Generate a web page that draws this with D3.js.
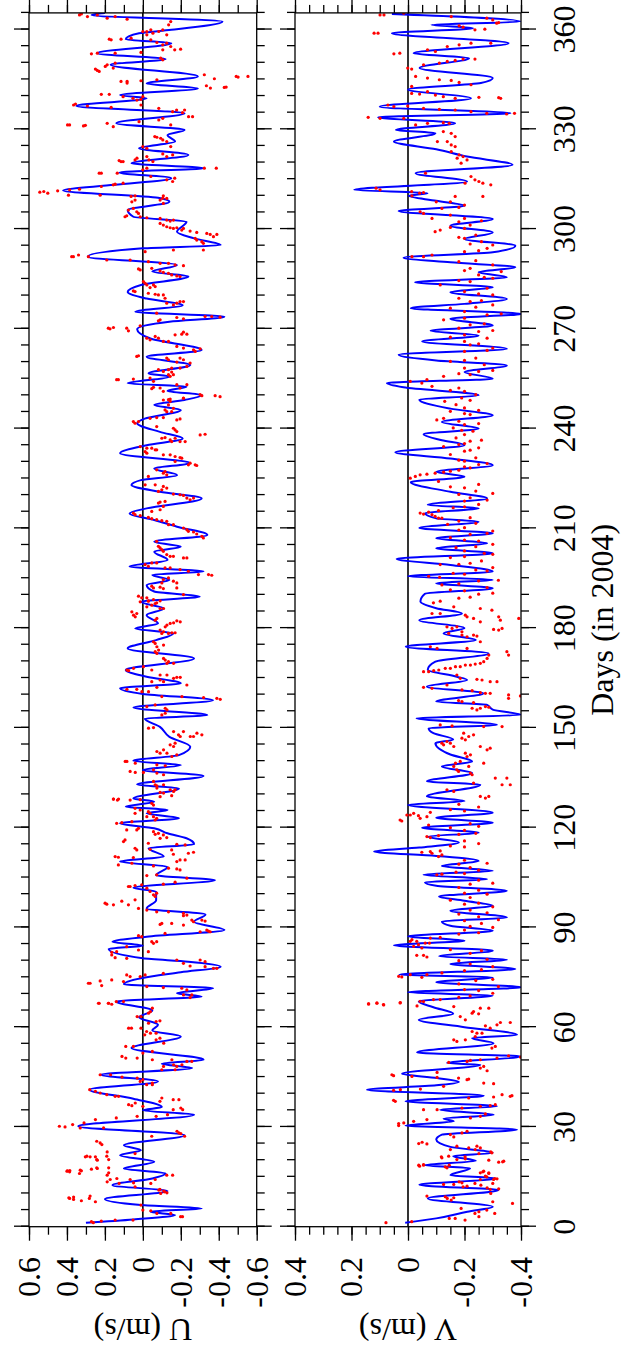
<!DOCTYPE html>
<html>
<head>
<script src="https://d3js.org/d3.v7.min.js"></script>
<style>
  body {margin:0;background:#fff;}
  svg text {font-family:"Liberation Serif","Times New Roman",Times,serif;font-size:32px;fill:#000;}
  .frame {fill:none;stroke:#000;stroke-width:1.3;}
  .zero {stroke:#000;stroke-width:1.6;}
  .tick line {stroke:#000;stroke-width:1.3;}
  .blue {fill:none;stroke:#0000ff;stroke-width:2;}
  .dot {fill:#ff0000;}
</style>
</head>
<body>
<svg id="chart" width="621" height="1359"></svg>
<script>
let dayTicks = [0,30,60,90,120,150,180,210,240,270,300,330,360];
let uTicks = [0.6,0.4,0.2,0,-0.2,-0.4,-0.6];
let vTicks = [0.4,0.2,0,-0.2,-0.4];

// blue curve, [day, U]
let uLine = [[1.2,0.30],[2.2,0.05],[3.5,-0.17],[4.5,-0.04],[5.5,-0.31],[6.5,0.01],[8.3,0.20],[10.7,-0.13],[12.5,0.16],[14.5,-0.05],[16,-0.12],[17.5,0.10],[19.5,-0.06],[21.5,0.12],[23,0.01],[24.5,0.10],[27.5,-0.22],[30.2,0.34],[33.7,-0.27],[35,0.0],[36,-0.10],[38.5,0.05],[41.2,0.28],[43.7,-0.08],[45.7,0.22],[47.7,-0.26],[49,-0.10],[50.2,-0.32],[53.7,0.06],[57.2,-0.20],[59,-0.05],[60.7,-0.08],[63,0.02],[65,-0.05],[67.7,0.14],
[69.2,-0.31],[70.2,-0.18],[71.7,-0.37],[72.9,0.10],[74.7,0.01],[76.5,-0.20],[78.2,-0.41],[79.7,-0.24],[80.7,0.0],[83.5,0.18],[84.5,0.0],[85.7,0.16],[87.2,-0.02],[89.2,-0.43],[91.7,-0.27],[93.9,-0.33],[95.7,-0.02],[98.2,-0.07],[100.7,-0.07],[101.9,0.05],[104.2,-0.38],[105.7,-0.07],[108.2,-0.13],[109.8,0.12],[111.3,-0.11],[113.8,-0.03],[115,-0.27],[116.8,-0.23],[118.3,-0.13],[119.8,-0.06],[121.3,0.12],[122.8,-0.19],[124.3,-0.02],[125.3,-0.13],[126.3,0.09],[127.8,-0.06],
[128.8,0.05],[131.8,-0.19],[133,0.03],[135.5,-0.32],[137.3,0.0],[138.8,-0.20],[140.1,0.05],[141.8,-0.19],[144.3,-0.25],[147.3,-0.14],[150.3,-0.09],[152.8,-0.01],[153.8,-0.34],[156.1,0.05],[158.3,-0.37],[160.2,0.0],[161.9,0.12],[163.4,-0.20],[165.4,-0.02],[167.4,0.09],[170.9,-0.27],[173.9,0.08],[176.4,-0.07],[178.4,-0.16],[179.9,0.04],[181.4,-0.08],[183.9,-0.02],[185.9,-0.11],[187.9,0.01],
[189.5,-0.30],[191,-0.06],[193,-0.02],[194.5,-0.14],[196,-0.05],[197,-0.32],[198.5,0.07],[200.5,-0.13],[203,-0.06],[204.5,-0.20],[206,-0.06],[208,-0.34],[210.5,-0.18],[212.5,-0.06],[214.5,0.07],[216,-0.02],[219,-0.31],[221,-0.09],[223,0.06],[224.5,0.01],[226,-0.18],[228,-0.06],[229.6,-0.25],[232.6,0.12],[235,-0.02],[237,-0.21],[239,-0.09],[241.6,0.03],[243,-0.01],[245.6,-0.20],[247.1,-0.06],[248.6,-0.22],
[250.1,-0.31],[251.3,-0.13],[252.6,-0.23],[253.6,0.08],[255.6,-0.14],[256.6,-0.03],[259.1,-0.25],[261.6,-0.02],[263.6,-0.31],[267.1,-0.04],[269.9,0.03],[272.1,-0.14],[273.6,-0.43],[275.1,0.04],[277.1,-0.21],[279.1,-0.02],[281.1,0.08],[283.2,0.01],[285.7,-0.24],[287.2,-0.05],[289.2,-0.18],[291.7,0.29],[294.2,0.0],[295.2,-0.41],[297.2,-0.27],[299.2,-0.18],[302.2,-0.23],[303.7,0.05],[305.7,0.08],[308.2,-0.14],[309.4,-0.08],
[311.6,0.42],[313.3,0.15],[315.3,-0.15],[317,0.125],[318.3,-0.32],[319.8,0.06],[322.3,-0.24],[324.3,0.02],[326.3,-0.17],[328.3,-0.13],[329.8,-0.22],[331.8,0.14],[334.8,-0.22],[337,0.35],[339.3,-0.02],[340.3,0.12],[342.3,-0.29],[343.8,-0.02],[345.9,-0.29],[349.4,0.17],[351.1,-0.12],[352.9,0.24],[355.9,-0.15],[357.1,0.09],[358.9,0.02],[359.9,-0.15],[362.4,-0.42],[364.4,0.27],[365,0.2]];

// red points, [day, U]
let uDots = [[21,0.303],[21,0.25],[20,0.24],[22.5,0.188],[22,0.041],[16.8,0.397],[16.5,0.386],[16,0.334],[16.8,0.324],[17.3,0.271],[17.5,0.24],[15.5,0.188],[13.5,0.188],[13,0.125],[12,0.041],[13,-0.042],[15.5,-0.126],[15.5,-0.157],[11,-0.084],[10,-0.094],[10.5,-0.115],[8.5,0.386],[8.2,0.365],[7.8,0.324],[8.5,0.282],[7.5,0.25],[6.5,0.01],[5,0],[4.8,-0.042],[4,-0.074],[4,-0.147],[3,-0.199],[3,-0.209],[1.5,0.271],[1.2,0.261],[1.7,0.219],[2,0.146],[2,0.052],
[67.2,0.23],[67.2,0.18],[67.7,0.14],[65.7,-0.05],[64.7,-0.04],[64.2,-0.03],[63.2,0.03],[63.2,0.01],[61.7,-0.07],[61.9,-0.09],[61.2,-0.03],[59.7,0.075],[59.7,0.06],[59.7,0.01],[57.7,-0.01],[58.2,-0.04],[58.2,-0.07],[58.7,-0.02],[54.2,0.09],[54.2,0.05],[52.2,0.0],[52.7,-0.05],[55.2,-0.11],[56.2,-0.07],[56.7,-0.09],[51.2,0.11],[50.7,0.09],[50.7,0.03],[50.2,-0.05],[50.2,-0.153],[49.7,-0.232],[49.7,-0.258],[48.7,-0.162],[48.2,-0.179],[48.7,-0.206],[47.2,-0.17],[47.2,-0.1],[48.2,-0.109],[45.7,0.225],[45.7,0.17],[45,0.11],[44.7,0.03],[43.7,0.014],[43.2,-0.05],[44.2,0.0],[42.7,-0.05],[42.7,-0.02],[41.2,0.28],[40.7,0.25],[40.2,0.225],[39.7,0.19],[39.2,0.146],[39.2,0.128],[38.7,-0.1],[37.7,-0.09],[38.2,-0.16],[38.2,-0.19],[36.7,0.075],[36.4,0.058],[37.2,0.04],[36.2,0.0],[35.2,-0.16],[35.7,-0.2],[35.2,-0.21],[33.7,-0.13],[33.2,-0.07],[33.2,0.03],[32.7,0.14],[30.2,0.44],[30,0.41],[30.7,0.37],[29.7,0.33],[31.2,0.31],[32.2,0.25],[29.7,0.207],[28.2,-0.19],[28,-0.2],[27.2,-0.22],[28.7,-0.18],[25.7,0.243],[25.2,0.225],[24.7,0.216],[27.2,-0.047],[21.2,0.295],[21.0,0.278],[20.2,0.243],[21.2,0.19],[20.2,0.18],[16.7,0.4],[16.9,0.385],[17,0.33],[17.7,0.243],[17.7,0.18],[16.2,0.18],[14.2,0.172],[14.5,0.137],[14.2,0.067],[13.2,0.049],[14.2,-0.065],[11.2,-0.09],[10.7,-0.11],[10.2,-0.127],[8.7,0.39],[8.9,0.365],[9.2,0.278],
[128.6,0.155],[128.3,0.134],[128.3,0.067],[129.3,-0.091],[129.6,-0.152],[127.3,-0.047],[126.8,-0.056],[125.8,0.041],[125.3,0.014],[124.8,-0.029],[124.3,-0.038],[124.3,0.041],[123.3,-0.056],[122.8,-0.073],[122.3,-0.065],[123.3,-0.021],[121.3,0.138],[121.5,0.111],[121.8,0.058],[119.3,0.085],[119.8,0.023],[119.3,0.032],[118.8,-0.056],[118,-0.065],[118.3,-0.082],[116.8,-0.091],[117.8,-0.108],[117,-0.126],[115.8,0.102],[116.3,0.094],[115.3,-0.029],[115,-0.179],[114.8,-0.223],[113.3,-0.152],[112,-0.161],[112.3,-0.24],[112.6,-0.267],[111.3,0.146],[111.1,0.129],[111,0.05],[113.8,0.041],[113.3,0.032],[113.5,-0.038],[108.8,0.129],[109.3,0.058],[108.5,-0.056],[109.8,-0.179],[110.3,-0.196],[110.3,-0.223],[107.8,-0.135],[107.6,-0.179],[107.3,-0.196],[105.8,-0.073],[105.6,-0.021],[104.8,-0.232],[103,-0.108],[103.6,-0.17],[102.3,0.076],[102.3,0.067],[102.6,0.041],[102.8,0.006],[101.8,-0.021],[100.8,-0.038],[99.8,-0.056],[99.3,-0.065],[100.3,-0.073],[97.3,0.199],[97,0.19],[96.8,0.155],[97.9,0.111],[96.8,0.076],[98.3,0.041],[95.7,0.023],[95.2,-0.021],[94.7,-0.073],[94.7,-0.135],[94.2,-0.214],[93.5,-0.214],[93.7,-0.232],[91.7,-0.267],[92.2,-0.258],[92.2,-0.311],[91.9,-0.328],[90.9,-0.091],[91.2,-0.1],[91.2,-0.152],[88.2,-0.117],[90.7,-0.214],[88.7,-0.302],[89.2,-0.337],[88.9,-0.346],[88.7,-0.355],[87.5,0.023],[87.2,0.006],[85.7,-0.047],[85.2,-0.056],[85.7,-0.073],[82.5,0.164],[81.7,0.164],[80.9,0.146],[82.7,0.138],[84.2,0.085],[80.7,0.085],[83.2,0.023],[82.7,-0.029],[80.2,-0.179],[79.2,-0.214],[80.2,-0.302],[79.7,-0.328],[78.4,-0.249],[78.2,-0.328],[77.7,-0.372],[77.7,-0.39],[75.7,0.085],[75.2,0.067],[75.2,0.014],[75.7,-0.012],[76.2,-0.108],[73.2,0.287],[73.2,0.278],[73.9,0.225],[72.5,0.217],[74.2,0.164],[73.7,0.102],[72.2,-0.021],[71.9,-0.108],[71.7,-0.205],[71.2,-0.232],[69.7,-0.258],[68.9,-0.249],[69.7,-0.214],[67.2,0.234],[67.2,0.182],[66.9,0.164],[67.7,0.102],
[187.9,0.014],[188.2,-0.03],[188.2,-0.091],[186.9,-0.047],[186.4,-0.021],[187.4,-0.065],[185.9,-0.091],[185.9,-0.109],[184.9,0.058],[183.9,0.049],[184.4,0.032],[183.4,0.04],[182.9,-0.074],[182.4,-0.065],[180.9,-0.127],[181.4,-0.144],[181.6,-0.162],[181.9,-0.197],[182.2,-0.179],[180.4,-0.118],[179.4,-0.091],[178.4,-0.1],[178.9,-0.109],[178.4,-0.135],[178.6,-0.153],[178.6,-0.17],[175.9,-0.056],[175.4,-0.065],[174.4,-0.074],[174.9,-0.109],[172.9,-0.065],[172.4,-0.074],[173.4,-0.083],[170.9,-0.109],[170.4,-0.118],[169.9,-0.135],[169.4,-0.127],[169.4,-0.162],[167.4,0.084],[167.2,0.075],[167.9,0.049],[168.4,-0.003],[167.4,-0.047],[165.9,-0.091],[165.9,-0.127],[164.9,-0.162],[165.2,-0.179],[165.2,-0.197],[163.9,-0.047],[164.4,-0.091],[163.9,-0.109],[162.9,-0.232],[161.6,0.084],[161.6,0.032],[160.9,0.005],[160.9,-0.03],[162.2,-0.074],[159.4,-0.1],[159.4,-0.206],[159.1,-0.32],[158.9,-0.39],[158.6,-0.408],[156.4,-0.021],[156.9,-0.065],[155.9,-0.118],[155.4,-0.127],[153.9,-0.1],[154.4,-0.118],[149.9,-0.03],[150.1,-0.056],[148.9,-0.162],[147.9,-0.188],[147.4,-0.197],[148.9,-0.214],[147.4,-0.25],[148.4,-0.285],[147.9,-0.311],[147.4,-0.267],[144.9,-0.144],[144.4,-0.162],[145.4,-0.17],[143.4,-0.109],[142.4,-0.127],[141.9,-0.179],[141.4,-0.153],[142.9,-0.074],[142.4,-0.091],[139.9,0.093],[139.9,0.084],[139.4,0.04],[138.9,-0.074],[138.6,-0.118],[136.9,0.067],[136.6,0.04],[136.6,-0.003],[137.4,-0.056],[136.4,-0.074],[135.9,-0.109],[132.9,-0.065],[132.6,-0.074],[132.9,-0.109],[133.9,-0.056],[131.9,-0.074],[130.6,-0.091],[130.4,-0.109],[131.4,-0.144],[130.9,-0.162],[131.4,-0.17],[128.6,0.155],[128.6,0.128],[128.4,0.014],
[249.9,-0.311],[249.9,-0.381],[249.6,-0.407],[248.6,-0.108],[248.9,-0.144],[249.1,-0.214],[247.1,-0.135],[245.6,-0.117],[246.1,-0.161],[245.1,-0.152],[245.1,-0.126],[241.6,0.041],[242.1,0.05],[242.1,0.023],[243.1,-0.038],[243.3,-0.073],[243.3,-0.108],[242.6,-0.179],[242.9,-0.196],[240.6,-0.073],[240.1,-0.161],[239.6,-0.17],[239.1,-0.179],[237.1,-0.1],[237.3,-0.117],[236.6,-0.144],[236.1,-0.152],[237.1,-0.17],[236.1,-0.196],[236.1,-0.223],[238.1,-0.302],[238.3,-0.328],[234.6,0.014],[234.1,-0.021],[234.1,-0.047],[233.6,-0.065],[233.6,-0.073],[233.1,-0.012],[232.6,-0.021],[232.1,-0.108],[232.1,-0.144],[231.6,-0.17],[231.3,-0.196],[231.1,-0.205],[230.1,-0.17],[229.1,-0.24],[229.6,-0.249],[229.1,-0.276],[228.9,-0.284],[227.6,-0.073],[227.1,-0.117],[226.1,-0.126],[226.6,-0.108],[225.6,-0.029],[223.1,-0.012],[223.1,-0.065],[222.6,-0.108],[222.1,-0.126],[221.6,-0.1],[221.1,-0.082],[220.3,-0.161],[220.1,-0.196],[219.9,-0.214],[219.1,-0.232],[218.6,-0.249],[219.1,-0.267],[217.6,-0.082],[217.9,-0.091],[218.1,-0.117],[216.6,-0.108],[215.6,-0.091],[215.1,-0.047],[214.6,0.05],[214.1,0.041],[213.8,0.014],[213.3,-0.029],[212.9,-0.047],[212.6,-0.073],[212.3,-0.1],[212.1,-0.126],[211.1,-0.135],[211.1,-0.161],[210.1,-0.214],[209.6,-0.232],[209.1,-0.24],[208.9,-0.267],[208.3,-0.284],[207.6,-0.311],[207.1,-0.319],[206.1,-0.073],[204.6,-0.082],[204.1,-0.091],[203.6,-0.1],[203.1,-0.108],[202.1,-0.126],[201.6,-0.144],[201.6,-0.161],[201.1,-0.214],[201.1,-0.232],[199.1,-0.012],[198.6,-0.029],[199.6,-0.047],[199.6,-0.073],[198.1,-0.117],[198.1,-0.144],[197.6,-0.196],[197.1,-0.24],[196.1,-0.293],[196.1,-0.346],[195.9,-0.363],[194.6,-0.108],[195.1,-0.135],[194.1,-0.161],[193.6,-0.179],[193.6,-0.1],[192.6,-0.047],[192.1,-0.056],[192.3,-0.091],[191.9,-0.108],[192.1,-0.179],[190.1,-0.214],[189.6,0.023],[189.1,0.006],[189.1,-0.021],[188.1,-0.029],[188.6,-0.056],[187.6,-0.073],
[310.2,0.392],[310.2,0.225],[310,0.041],[310,-0.108],[308.7,0.041],[308.2,0.058],[308.7,-0.091],[309.2,-0.126],[307.7,-0.108],[305.7,0.076],[306.2,0.05],[305.2,0.032],[304.7,0.023],[304,0.085],[303.7,0.094],[303.7,0.014],[303.4,-0.021],[303.2,-0.091],[302.7,-0.126],[302.4,-0.144],[302.7,-0.161],[301.7,-0.091],[301.2,-0.108],[300.7,-0.126],[300.4,-0.144],[300.2,-0.161],[300.4,-0.179],[299.7,-0.205],[300.2,-0.214],[299.4,-0.249],[299,-0.284],[298.7,-0.337],[298.4,-0.355],[298.4,-0.39],[297.7,-0.372],[297.2,-0.276],[296.7,-0.284],[296.2,-0.311],[295.7,-0.319],[293.7,-0.161],[293.7,-0.319],[291.7,0.375],[291.7,0.366],[292.2,0.339],[291.7,0.287],[290.7,0.19],[290.7,0.067],[293.2,-0.012],[290.2,-0.029],[289.7,-0.091],[289.7,-0.135],[289.2,-0.17],[289,-0.214],[288,0.023],[287.7,0.014],[288.2,-0.047],[287.4,-0.091],[287,-0.108],[286.7,-0.135],[286.2,-0.152],[285.9,-0.179],[285.7,-0.196],[284.2,-0.003],[283.7,-0.012],[283.2,-0.021],[283.2,-0.056],[282.7,-0.065],[282.4,-0.038],[281.4,0.05],[281.2,0.041],[280.7,-0.029],[280.4,-0.065],[280.2,-0.082],[280.2,-0.108],[279.2,-0.117],[277.7,-0.126],[277.7,-0.179],[278.2,-0.196],[278.2,-0.214],[277.2,-0.161],[274.7,-0.073],[272.7,-0.091],[272.4,-0.082],[273.4,-0.179],[273,-0.214],[273.7,-0.328],[273.7,-0.363],[273.5,-0.407],[270.2,0.182],[270,0.173],[270.4,0.155],[270.2,0.085],[269.4,0.076],[270.9,0.014],[267.2,-0.021],[266.7,-0.038],[267.7,-0.065],[267.2,-0.082],[266.2,-0.108],[266.2,-0.135],[268.2,-0.17],[268.4,-0.205],[269,-0.214],[268.4,-0.232],[264.7,-0.179],[264.2,-0.214],[263.7,-0.267],[263.2,-0.276],[264,-0.302],[261.7,0.032],[261.9,0.023],[261.2,-0.126],[260.7,-0.135],[261.2,-0.196],[260.7,-0.214],[258.7,-0.232],[259.7,-0.249],[260,-0.179],[257.7,-0.082],[257.2,-0.108],[257.7,-0.135],[258.2,-0.152],[258.2,-0.196],[256.2,-0.135],[255.7,-0.144],[256.2,-0.161],[257,-0.152],[254.7,0.138],[254.7,0.129],[254.9,0.05],[255.2,-0.038],[254.2,-0.056],[253.2,-0.179],[253.2,-0.232],[252.2,-0.196],[252.2,-0.091],[252.4,-0.056],[252,-0.047],[251.2,-0.108],[250.2,-0.302],[248.7,-0.135],[248.2,-0.144],[249.2,-0.214],
[364.4,0.334],[364.7,0.324],[363.9,0.292],[364.4,0.24],[363.4,0.188],[363.9,0.146],[363.1,0.083],[359.4,0],[359.4,-0.021],[359.9,-0.042],[358.9,-0.053],[359.4,-0.084],[359.9,-0.105],[358.4,-0.126],[361.4,-0.136],[362.4,-0.147],[358.4,-0.021],[357.1,0.177],[356.9,0.167],[357.1,0.115],[357.4,0.062],[356.9,-0.042],[356.1,-0.074],[355.4,-0.105],[355.9,-0.126],[354.9,-0.147],[353.9,-0.168],[354.1,-0.199],[353.9,-0.105],[352.7,0.271],[352.9,0.24],[352.9,0.146],[353.1,0.01],[351.4,-0.094],[350.9,-0.105],[348.1,0.25],[347.7,0.24],[348.9,0.198],[349.4,0.188],[348.4,0.156],[349.9,0.146],[347.4,0.23],[344.4,0.083],[344.4,0.115],[343.9,0.083],[344.6,0.01],[344.9,-0.074],[346.4,-0.324],[345.2,-0.377],[345.9,-0.492],[345.7,-0.502],[345.9,-0.554],[340.5,0.219],[340.5,0.177],[339.8,0.104],[339.3,0.052],[338.8,0.031],[339,0.01],[339.8,0],[342.4,-0.356],[342.6,-0.429],[342.7,-0.439],[343.1,-0.335],[337.3,0.365],[337.6,0.355],[337,0.292],[336.6,0.167],[337.3,0.01],[336.3,-0.084],[335.3,-0.157],[335.8,-0.178],[335,-0.209],[335.8,-0.22],[333.8,-0.241],[333.8,-0.262],[333.3,-0.105],[331.3,0.397],[331.3,0.386],[331,0.313],[331.2,0.303],[331.8,0.188],[330.8,0.156],[332.3,0.02],[332.8,-0.084],[331.3,-0.147],[327.8,-0.063],[327.6,-0.074],[327.3,-0.094],[326.8,-0.105],[326.3,-0.126],[324.8,-0.147],[324.8,0],[324.3,-0.021],[320.6,0.125],[320.3,0.115],[320.3,0.104],[320.8,0.041],[321.3,0.031],[321.8,-0.021],[320.8,-0.032],[320.3,-0.053],[322.6,-0.105],[321.8,-0.126],[322.3,-0.157],[316.8,0.23],[316.8,0.219],[316.8,0.135],[317.8,0],[318.3,-0.021],[315.3,-0.168],[318.3,-0.324],[318.3,-0.387],[315.8,-0.042],[313.3,0.156],[313.5,0.146],[313.8,0.104],[314.8,-0.126],[314.3,-0.157],[311.1,0.543],[311.3,0.522],[310.8,0.501],[311.5,0.449],[311.8,0.386],[312,0.334],[312.8,0.219],[309.8,0.062],[309.3,-0.105]];

// blue curve, [day, V]
let vLine = [[1.2,0.01],[2.5,-0.10],[4.5,-0.21],[6,-0.30],[8.5,-0.07],[11,-0.32],[12.6,-0.04],[14.5,-0.31],[15.5,-0.15],[17.6,-0.22],[18.5,-0.06],[19.8,-0.24],[21.2,-0.16],[22.2,-0.30],[24,-0.15],[26.2,-0.10],[27.7,-0.12],[29.2,-0.386],[30.4,0.009],[31.7,-0.162],[32.5,-0.126],[33.7,-0.303],[35.2,-0.114],[36.2,-0.315],[37.7,0.009],[39.4,-0.268],[41.2,0.145],[42.5,-0.1],[43.5,-0.18],[44.7,-0.103],[46,0.021],[48.7,-0.256],[49.2,-0.138],[51.2,-0.398],[52.4,-0.032],[55.2,-0.303],[56.7,-0.227],[57.7,-0.386],[60,-0.2],[62.2,-0.038],[64,-0.16],[66,-0.09],[67.7,-0.038],
[69.5,-0.30],[70.5,0.0],[72,-0.40],[73.5,-0.10],[75,-0.30],[75.8,0.03],[77.5,-0.38],[79,-0.15],[80.3,-0.35],[81.3,-0.11],[83,-0.30],[84.6,0.05],[86,-0.20],[87.3,0.0],[89,-0.30],[90.5,-0.15],[91.8,-0.12],[93,-0.35],[95,-0.15],[96.5,-0.30],[98,-0.2],[99.3,-0.11],[101,-0.35],[102.5,-0.10],[103.6,-0.06],[104.5,-0.28],[105.8,-0.055],[107,-0.30],[108.5,-0.12],[110,-0.25],[111.5,-0.10],[112.8,0.12],[114,-0.04],[115.5,-0.18],[117.3,-0.07],[118.5,-0.25],[120,-0.05],[121.5,-0.3],[123,-0.1],[124.5,-0.3],[126.8,0.0],[128,-0.2],
[129.4,-0.067],[132.9,-0.256],[133.9,-0.067],[136.4,-0.227],[138.4,-0.12],[139.9,-0.227],[142,-0.15],[145.4,-0.097],[146.5,-0.16],[148.4,-0.09],[149.9,-0.073],[150.9,-0.315],[152.9,-0.03],[153.9,-0.40],[155.5,-0.3],[156.9,-0.28],[157.9,-0.10],[160.4,-0.268],[162.4,-0.067],[164.4,-0.209],[165.4,-0.173],[167.5,-0.07],[169.9,-0.097],[172.4,-0.285],[174.4,0.008],[176.4,-0.24],[178.4,-0.126],[180,-0.2],[182.4,-0.04],[184.4,-0.191],[186,-0.1],[188,-0.044],
[190.3,-0.06],[192,-0.3],[193.5,-0.1],[194.5,-0.3],[195.6,0.0],[197,-0.3],[199,-0.15],[200.8,0.04],[202.5,-0.3],[204,-0.1],[205.5,-0.28],[207,-0.1],[208.5,-0.3],[210.1,-0.04],[212,-0.25],[213,-0.1],[214.6,-0.06],[216,-0.25],[217.1,-0.07],[219,-0.28],[221,-0.15],[223.9,-0.01],[225.5,-0.2],[227,-0.1],[229,-0.3],[231,-0.15],[232.9,0.045],[235,-0.2],[236.5,-0.12],[238.3,-0.055],[240,-0.25],[242,-0.12],[244,-0.3],[246,-0.15],[248.7,-0.04],[250,-0.25],[252.4,0.016],[253.7,0.075],[255,-0.3],[257,-0.2],[259,-0.35],[260.5,-0.1],[262.2,0.033],[264,-0.35],[266.2,-0.05],[268,-0.25],[269.4,-0.08],[271,-0.3],[273,-0.15],[274.5,-0.4],[276.2,-0.01],[277.5,-0.2],[279,-0.35],[281,-0.15],[282.5,-0.3],[284,-0.025],[285.5,-0.35],[287,-0.25],[288.5,-0.38],[290,-0.15],[291.4,0.016],[293,-0.3],[295,-0.38],[297,-0.2],[299,-0.3],[301,-0.15],[303,-0.3],[305.4,0.033],[307,-0.2],[308.5,-0.1],[310,-0.002],
[310.8,-0.069],[311.8,0.19],[314.3,-0.209],[316.8,-0.027],[319.3,-0.37],[321.8,-0.209],[324,-0.1],[326.3,0.05],[328.8,-0.097],[329.8,0.043],[331.8,-0.167],[333.6,0.106],[334.8,-0.363],[336.8,0.1],[339.3,-0.223],[342,0.0],[343.9,-0.258],[345.4,-0.3],[348.4,-0.041],[351.4,-0.216],[352.9,-0.02],[355.9,-0.356],[358.9,0.057],[360.4,-0.23],[361.4,-0.083],[362.4,-0.398],[364.7,0.057]];

// red points, [day, V]
let vDots = [[1.2,0.078],[1.5,-0.013],[2.5,-0.146],[2.5,-0.167],[2,-0.202],[3,-0.251],[4,-0.237],[4.5,-0.251],[5,-0.279],[4,-0.307],[5.5,-0.188],[7,-0.37],[7.5,-0.3],[8.5,-0.139],[8,-0.153],[10,-0.293],[15,-0.279],[16,-0.286],[16.5,-0.265],[14.5,-0.307],[13,-0.3],[13,-0.237],[12.5,-0.258],[12,-0.195],[13.5,-0.181],[18,-0.132],[18.5,-0.146],[18.2,-0.041],[18.5,-0.055],[19.5,-0.335],[20,-0.286],[21,-0.202],[21,-0.118],[22,-0.251],[22.5,-0.293],
[67,0.139],[67.2,0.11],[66.7,0.086],[67.4,0.027],[66.4,-0.032],[67.7,-0.055],[66.2,-0.162],[63.2,-0.185],[62.2,-0.203],[64.2,-0.227],[64.7,-0.232],[64,-0.25],[65.7,-0.256],[65.7,-0.286],[60.7,-0.315],[61.4,-0.327],[61.4,-0.362],[60.4,-0.274],[59.7,-0.291],[58.2,-0.262],[57.2,-0.238],[58.7,-0.227],[58.2,-0.244],[56.2,-0.162],[55.7,-0.173],[56.2,-0.203],[53.7,-0.297],[54.2,-0.309],[50.2,-0.256],[50.7,-0.315],[51.4,-0.356],[51,-0.398],[49.4,-0.144],[49.7,-0.209],[50,-0.221],[48.2,-0.268],[46.9,-0.28],[47.7,-0.256],[45.7,0.057],[45.4,0.051],[45.2,-0.014],[46.4,-0.103],[44.9,-0.103],[44.7,-0.179],[44.2,-0.209],[44.4,-0.215],[43.2,-0.268],[43,-0.303],[41,0.051],[41.2,0.027],[41.4,-0.044],[42.2,-0.126],[38.7,-0.215],[39,-0.303],[39.7,-0.333],[39.2,-0.362],[39.4,-0.368],[38,0.051],[37.7,0.045],[35.2,-0.055],[35.2,-0.103],[35.7,-0.191],[36.2,-0.256],[36.4,-0.291],[36.7,-0.309],[32.7,-0.221],[33.2,-0.256],[33.9,-0.274],[31,0.033],[31.2,0.015],[30.4,0.033],[31.7,-0.02],[32.2,-0.067],[27,-0.162],[27.7,-0.15],[28.2,-0.191],[28.7,-0.209],[23.7,-0.256],[24.2,-0.244],[22.2,-0.297],[25,-0.038],[25.4,-0.05],[24.9,-0.067],[23.2,-0.15],[24.2,-0.173],[23.7,-0.215],[23.2,-0.238],[20.7,-0.12],[21.2,-0.144],[20.2,-0.173],[20.4,-0.203],[19.4,-0.321],[19.7,-0.339],[18.5,-0.038],[18.7,-0.055],[17.7,-0.138],[16.2,-0.256],[16.7,-0.268],[16.2,-0.286],[15.2,-0.274],[12.7,-0.126],[12.7,-0.162],[13.2,-0.191],[12.2,-0.209],[14.2,-0.256],[14.2,-0.303],[14.4,-0.315],[11.7,-0.28],[11.2,-0.291],[11.4,-0.321],[9.2,-0.067],[9,-0.132],[8.7,-0.162],
[122.3,0.028],[122,0.022],[123.8,0.004],[123.8,-0.008],[124.3,-0.02],[123.6,-0.037],[122.8,-0.043],[123.3,-0.067],[124.6,-0.079],[120.8,-0.073],[117.3,-0.067],[117,-0.079],[117.6,-0.108],[112.6,-0.049],[112.8,-0.079],[112.3,-0.085],[111.3,-0.108],[111.8,-0.12],[113,-0.114],[105.8,-0.102],[106,-0.12],[85.8,-0.008],[86.3,-0.014],[85.8,-0.031],[84.8,-0.037],[85.3,-0.061],[85.3,-0.076],[84.3,-0.02],[83.8,-0.049],[86.8,-0.079],[87,-0.114],[81.6,-0.031],[81.6,-0.055],[81.1,-0.067],[75.3,0.033],[75.1,0.022],[75.8,-0.008],[75,-0.049],[75.8,-0.067],[76.3,-0.12],[67,0.14],[67.3,0.11],[66.8,0.087],[67.3,0.028],[67.8,-0.043],[68.3,-0.09],[68.3,-0.114],
[69,-0.18],[69.4,-0.22],[70.2,-0.3],[71,-0.25],[71.3,-0.2],[72.2,-0.32],[73,-0.18],[74,-0.24],[74.4,-0.3],[77,-0.2],[77.3,-0.26],[78.2,-0.3],[79,-0.22],[80,-0.18],[80.4,-0.28],[82.2,-0.22],[83,-0.26],[83.3,-0.15],[88,-0.18],[88.4,-0.25],[89.2,-0.2],[90,-0.3],[90.3,-0.22],[91.2,-0.26],[92,-0.2],[92.3,-0.32],[93.2,-0.25],[94,-0.18],[94.4,-0.28],[95.2,-0.22],[96.2,-0.3],[97,-0.2],[97.3,-0.25],[98.2,-0.15],[99,-0.22],[100,-0.28],[100.3,-0.2],[101.2,-0.25],[102,-0.18],[103,-0.22],[103.3,-0.3],[104.2,-0.25],[106.2,-0.2],[106.6,-0.17],[107.2,-0.25],[108,-0.22],[109,-0.18],[109.3,-0.28],[110.2,-0.2],[114.2,-0.2],[114.5,-0.15],[115.2,-0.25],[116,-0.2],[118,-0.18],[118.3,-0.24],[119.2,-0.2],[120,-0.15],[120.4,-0.25],[121.2,-0.22],[125,-0.2],[125.4,-0.15],[126.2,-0.25],[127,-0.18],
[184.4,-0.085],[184.4,-0.114],[186.4,-0.162],[185.9,-0.256],[185.4,-0.297],[183.4,-0.321],[182.4,-0.327],[182.9,-0.392],[183.9,-0.203],[183.4,-0.209],[182.9,-0.232],[181.9,-0.256],[179.6,-0.303],[179.4,-0.321],[179.9,-0.333],[180.4,-0.138],[179.9,-0.156],[180.4,-0.173],[178.9,-0.191],[177.9,-0.191],[177.4,-0.209],[177.9,-0.232],[177.6,-0.244],[175.9,-0.256],[178.4,-0.144],[174.4,-0.079],[173.9,-0.103],[173.9,-0.209],[172.9,-0.35],[171.9,-0.356],[171.9,-0.286],[170.9,-0.28],[169.9,-0.268],[169.4,-0.256],[169.2,-0.238],[168.9,-0.221],[168.9,-0.203],[168.4,-0.185],[168.4,-0.168],[167.9,-0.15],[167.9,-0.132],[167.4,-0.109],[167.2,-0.091],[166.9,-0.073],[166.9,-0.055],[165.9,-0.173],[164.9,-0.185],[164.6,-0.244],[164.4,-0.262],[163.9,-0.291],[163.9,-0.315],[162.2,-0.055],[161.9,-0.085],[162.9,-0.138],[161.4,-0.191],[161.2,-0.227],[160.6,-0.256],[160.4,-0.274],[160.4,-0.291],[159.9,-0.356],[158.9,-0.356],[159.6,-0.398],[158.2,-0.179],[157.9,-0.191],[157.6,-0.232],[155.9,-0.227],[155.4,-0.244],[155.9,-0.256],[156.4,-0.274],[156.2,-0.286],[150.4,-0.333],[150.9,-0.114],[150.6,-0.156],[150.4,-0.268],[145.4,-0.12],[144.9,-0.126],[145.9,-0.138],[145.4,-0.15],[144.4,-0.162],[148.4,-0.197],[147.4,-0.215],[147.9,-0.232],[146.4,-0.203],[146.9,-0.191],[142.4,-0.203],[141.4,-0.209],[141.9,-0.221],[144.4,-0.256],[143.4,-0.28],[143.9,-0.291],[139.4,-0.268],[139.4,-0.168],[139.9,-0.185],[138.4,-0.162],[137.4,-0.173],[136.9,-0.179],[138.4,-0.215],[136.4,-0.221],[135.9,-0.227],[134.9,-0.309],[132.9,-0.333],[132.9,-0.362],[134.9,-0.35],[133.4,-0.232],[129.4,-0.256],[128.9,-0.274],[129.4,-0.286],[130.9,-0.162],[131.4,-0.138],
[225.1,-0.008],[225.6,-0.026],[226.1,-0.043],[226.3,-0.067],[226.6,-0.096],[226.9,-0.126],[214.6,-0.043],[214.3,-0.055],[214.9,-0.073],[214.1,-0.085],[213.6,-0.096],[213.1,-0.108],[213.1,-0.12],[215.3,-0.108],[242.6,-0.102],[243.1,-0.126],[234.6,-0.126],[224.1,-0.108],[195.6,-0.073],[195.3,-0.112],[199.1,-0.114],[187.6,-0.09],[188.1,-0.114],
[189,-0.18],[189.3,-0.22],[190.2,-0.25],[190.5,-0.3],[191.2,-0.2],[191.5,-0.15],[192.2,-0.28],[193,-0.12],[193.3,-0.18],[194.2,-0.25],[194.4,-0.32],[196.2,-0.2],[196.5,-0.16],[197.2,-0.28],[197.5,-0.24],[198.2,-0.3],[199.2,-0.18],[199.5,-0.22],[200.2,-0.26],[201.2,-0.15],[201.5,-0.2],[202.2,-0.3],[202.5,-0.27],[203.2,-0.2],[204.2,-0.17],[204.5,-0.24],[205.2,-0.3],[206.2,-0.25],[206.5,-0.2],[207.2,-0.15],[208.2,-0.22],[208.5,-0.28],[209.2,-0.3],[209.5,-0.18],[210.2,-0.2],[211.2,-0.14],[211.5,-0.24],[212.2,-0.18],[213.2,-0.22],[216.2,-0.16],[216.5,-0.2],[217.2,-0.25],[218.2,-0.2],[218.5,-0.28],[219.2,-0.22],[220.2,-0.18],[220.5,-0.3],[221.2,-0.24],[222.2,-0.2],[222.5,-0.15],[223.2,-0.25],[227.2,-0.15],[227.5,-0.18],[228.2,-0.22],[228.5,-0.2],[229.2,-0.25],[229.5,-0.28],[230.2,-0.2],[230.5,-0.18],[231.2,-0.24],[232.2,-0.15],[233.2,-0.2],[233.5,-0.22],[234.2,-0.25],[235.2,-0.18],[235.5,-0.2],[236.2,-0.22],[236.5,-0.26],[237.2,-0.17],[238.2,-0.2],[239.2,-0.23],[239.5,-0.19],[240.2,-0.16],[241.2,-0.2],[241.5,-0.25],[242.2,-0.18],[244.2,-0.22],[244.5,-0.2],[245.2,-0.15],[245.5,-0.25],[246.2,-0.2],[247.2,-0.17],[248.2,-0.13],[248.5,-0.22],[249.2,-0.19],[250.2,-0.24],
[251.2,-0.2],[251.5,-0.15],[252.2,-0.18],[256.2,-0.22],[256.5,-0.18],[257.2,-0.25],[257.5,-0.3],[258.2,-0.2],[259.2,-0.27],[260.2,-0.15],[260.5,-0.2],[261.2,-0.24],[263.2,-0.2],[263.5,-0.28],[264.2,-0.3],[265.2,-0.22],[265.5,-0.25],[266.2,-0.2],[267.2,-0.28],[267.5,-0.15],[268.2,-0.2],[269.2,-0.25],[269.5,-0.3],[270.2,-0.18],[271.2,-0.22],[271.5,-0.27],[273.2,-0.2],[274.2,-0.28],[274.5,-0.33],[275.2,-0.2],[276.2,-0.15],[276.5,-0.24],[277.2,-0.3],[278.2,-0.22],[278.5,-0.26],[279.2,-0.18],[280.2,-0.3],[280.5,-0.25],[281.2,-0.2],[282.2,-0.28],[284.2,-0.22],[284.5,-0.18],[285.2,-0.3],[285.5,-0.27],[286.2,-0.25],[287.2,-0.33],[287.5,-0.2],[288.2,-0.22],[289.2,-0.3],[290.2,-0.18],[290.5,-0.24],[293.2,-0.2],[293.5,-0.25],[294.2,-0.28],[295.2,-0.3],[295.5,-0.22],[296.2,-0.26],[297.2,-0.2],[297.5,-0.18],[298.2,-0.24],[300.2,-0.2],[300.5,-0.15],[301.2,-0.22],[302.2,-0.18],[302.5,-0.26],[303.2,-0.2],[304.2,-0.15],[306.2,-0.12],[306.5,-0.18],[307.2,-0.2],[308.2,-0.15],
[310,-0.014],[305.2,-0.043],[304.7,-0.055],[303.2,-0.085],[299.2,-0.096],[299.7,-0.114],[291.7,-0.014],[291.7,-0.055],[292.2,-0.085],[283.2,-0.114],[272.7,-0.126],[254.2,-0.008],[253.7,-0.049],[254.7,-0.067],[252.7,-0.085],[255.7,-0.126],[308.2,-0.1],
[364.4,0.099],[364.4,0.085],[364.9,0.015],[363.9,-0.153],[363.4,-0.279],[362.9,-0.3],[362.1,-0.321],[361.9,-0.314],[358.9,0.12],[358.9,0.106],[361.1,-0.181],[360.7,-0.195],[360.1,-0.272],[359.9,-0.237],[352.7,0.05],[352.9,0.029],[353.9,-0.069],[353.4,-0.097],[354.9,-0.139],[355.4,-0.181],[355.9,-0.223],[355.9,-0.293],[348.4,0.001],[348.1,-0.013],[349.4,-0.055],[349.9,-0.111],[350.4,-0.139],[350.7,-0.167],[351.1,-0.195],[351.1,-0.237],[345.9,-0.027],[345.4,-0.069],[344.9,-0.111],[344.7,-0.153],[344.1,-0.181],[343.4,-0.223],[342.9,-0.013],[340.8,-0.013],[340.6,-0.041],[341.3,-0.069],[340.3,-0.097],[339.8,-0.125],[339.3,-0.167],[339.6,-0.251],[339.5,-0.321],[339.3,-0.328],[337.3,0.071],[336.8,0.05],[337,0.001],[336.3,-0.055],[336,-0.111],[335.8,-0.167],[335.3,-0.223],[334.8,-0.279],[334.6,-0.349],[334.8,-0.377],[333.6,0.141],[333.3,0.099],[333.3,0.015],[331.3,-0.027],[331.8,-0.069],[332,-0.125],[331.8,-0.146],[329.3,-0.125],[328.8,-0.153],[327.8,-0.167],[326.3,-0.139],[325.3,-0.153],[324.8,-0.167],[326.3,-0.104],[323.3,-0.153],[322.3,-0.181],[321.8,-0.195],[321.3,-0.174],[320.8,-0.209],[319.8,-0.188],[316.8,-0.062],[315.8,-0.223],[314.8,-0.237],[314.3,-0.251],[313.8,-0.265],[313.3,-0.293],[313.8,-0.202],[312.3,0.113],[311.8,0.099],[311.3,-0.013],[310.8,-0.041],[311,-0.055],[309.8,-0.167],[309.8,-0.265]];

let W = 1359;
let x = d3.scaleLinear().domain([0, 365]).range([132.3, 1346.1]);
let panels = [
  {id: "u", title: "U (m/s)", line: uLine, dots: uDots, ticks: uTicks, step: 0.1,
   y: d3.scaleLinear().domain([-0.6, 0.6]).range([256.7, 29])},
  {id: "v", title: "V (m/s)", line: vLine, dots: vDots, ticks: vTicks, step: 0.05,
   y: d3.scaleLinear().domain([-0.4, 0.4]).range([521, 295])}
];

// the figure is drawn landscape and turned a quarter turn
let root = d3.select("#chart").append("g")
  .attr("transform", `translate(0,${W}) rotate(-90)`);

let minorDays = d3.range(0, 366, 5);
let noDomain = sel => sel.select(".domain").remove();

panels.forEach(p => {
  let [yb, yt] = p.y.range();
  let g = root.append("g");
  let minorVals = d3.range(Math.round(p.y.domain()[0] / p.step), Math.round(p.y.domain()[1] / p.step) + 1)
    .map(k => +(k * p.step).toFixed(3));

  g.append("clipPath").attr("id", "clip-" + p.id)
    .append("rect").attr("x", x(0)).attr("y", yt)
    .attr("width", x(365) - x(0)).attr("height", yb - yt);

  // day ticks on top and bottom edges
  [[d3.axisTop, yt], [d3.axisBottom, yb]].forEach(([ax, yy]) => {
    g.append("g").attr("class", "axis").attr("transform", `translate(0,${yy})`)
      .call(ax(x).tickValues(minorDays).tickSize(8).tickFormat("")).call(noDomain);
    g.append("g").attr("class", "axis").attr("transform", `translate(0,${yy})`)
      .call(ax(x).tickValues(dayTicks).tickSize(15).tickFormat("")).call(noDomain);
  });
  // value ticks on left and right edges
  [[d3.axisLeft, x(0)], [d3.axisRight, x(365)]].forEach(([ax, xx]) => {
    g.append("g").attr("class", "axis").attr("transform", `translate(${xx},0)`)
      .call(ax(p.y).tickValues(minorVals).tickSize(8).tickFormat("")).call(noDomain);
    g.append("g").attr("class", "axis").attr("transform", `translate(${xx},0)`)
      .call(ax(p.y).tickValues(p.ticks).tickSize(14).tickFormat("")).call(noDomain);
  });

  g.append("line").attr("class", "zero")
    .attr("x1", x(0)).attr("x2", x(365)).attr("y1", p.y(0)).attr("y2", p.y(0));

  let plot = g.append("g").attr("clip-path", `url(#clip-${p.id})`);
  plot.append("path").datum(p.line).attr("class", "blue")
    .attr("d", d3.line().x(d => x(d[0])).y(d => p.y(d[1])).curve(d3.curveMonotoneX));
  plot.selectAll("circle").data(p.dots).enter().append("circle")
    .attr("class", "dot").attr("r", 1.6)
    .attr("cx", d => x(d[0])).attr("cy", d => p.y(d[1]));

  g.append("rect").attr("class", "frame")
    .attr("x", x(0)).attr("y", yt).attr("width", x(365) - x(0)).attr("height", yb - yt);

  g.selectAll("text.val").data(p.ticks).enter().append("text")
    .attr("class", "val").attr("x", 102).attr("y", d => p.y(d)).attr("dy", "0.34em")
    .attr("text-anchor", "end").text(d => d === 0 ? "0" : String(d));

  g.append("text").attr("text-anchor", "middle")
    .attr("transform", `translate(40,${(yb + yt) / 2}) rotate(-90)`)
    .text(p.title);
});

root.selectAll("text.day").data(dayTicks).enter().append("text")
  .attr("class", "day").attr("x", d => x(d)).attr("y", 575)
  .attr("text-anchor", "middle").text(d => d);

root.append("text").attr("x", (x(0) + x(365)) / 2).attr("y", 613)
  .attr("text-anchor", "middle").text("Days (in 2004)");
</script>
</body>
</html>
